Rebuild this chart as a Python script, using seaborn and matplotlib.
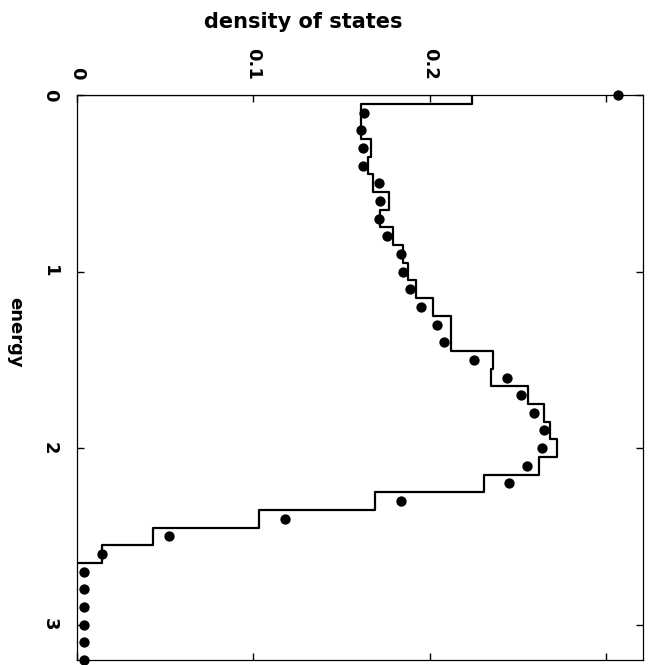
import numpy as np
import matplotlib
matplotlib.use("Agg")
import matplotlib.pyplot as plt
import seaborn as sns

# ---- data ----
# histogram (step curve): bin edges along the energy axis and density per bin
bin_edges = [0.0, 0.05, 0.15, 0.25, 0.35, 0.45, 0.55, 0.65, 0.75, 0.85, 0.95,
             1.05, 1.15, 1.25, 1.35, 1.45, 1.55, 1.65, 1.75, 1.85, 1.95,
             2.05, 2.15, 2.25, 2.35, 2.45, 2.55, 2.65]
hist_density = [0.224, 0.161, 0.161, 0.167, 0.165, 0.168, 0.177, 0.172, 0.179,
                0.185, 0.188, 0.192, 0.202, 0.212, 0.212, 0.236, 0.235, 0.256,
                0.265, 0.268, 0.272, 0.262, 0.231, 0.169, 0.103, 0.043, 0.014]

# dots
dot_energy = [0.0, 0.1, 0.2, 0.3, 0.4, 0.5, 0.6, 0.7, 0.8, 0.9, 1.0, 1.1, 1.2,
              1.3, 1.4, 1.5, 1.6, 1.7, 1.8, 1.9, 2.0, 2.1, 2.2, 2.3, 2.4, 2.5,
              2.6, 2.7, 2.8, 2.9, 3.0, 3.1, 3.2]
dot_density = [0.307, 0.163, 0.161, 0.162, 0.162, 0.171, 0.172, 0.171, 0.176,
               0.184, 0.185, 0.189, 0.195, 0.204, 0.208, 0.225, 0.244, 0.252,
               0.259, 0.265, 0.264, 0.255, 0.245, 0.184, 0.118, 0.052, 0.014,
               0.004, 0.004, 0.004, 0.004, 0.004, 0.004]

density_ticks = [0.0, 0.1, 0.2, 0.3]
density_ticklabels = ["0", "0.1", "0.2", ""]
energy_ticks = [0, 1, 2, 3]
energy_ticklabels = ["0", "1", "2", "3"]

# ---- styling ----
sns.set_style("white")
plt.rcParams["font.family"] = ["DejaVu Sans"]
plt.rcParams["font.weight"] = "bold"
for k in ["text.color", "axes.labelcolor", "xtick.color", "ytick.color",
          "axes.edgecolor"]:
    plt.rcParams[k] = "black"

fig = plt.figure(figsize=(6.49, 6.65), dpi=100)
ax = fig.add_axes([77 / 649, 5 / 665, (643 - 77) / 649, (660 - 95) / 665])

# step outline built from the bin data (closed to density 0 at both ends)
e = np.asarray(bin_edges)
v = np.asarray(hist_density)
step_e = np.concatenate([[e[0]], np.repeat(e, 2)[1:-1], [e[-1]]])
step_d = np.concatenate([[0.0], np.repeat(v, 2), [0.0]])
sns.lineplot(x=step_d, y=step_e, sort=False, estimator=None, color="black",
             linewidth=1.6, ax=ax)

sns.scatterplot(x=dot_density, y=dot_energy, color="black", s=55,
                edgecolor="black", linewidth=0, ax=ax, clip_on=False, zorder=5)

ax.set_xlim(0, 0.321)
ax.set_ylim(3.2, 0)

for sp in ax.spines.values():
    sp.set_visible(True)
    sp.set_color("black")
    sp.set_linewidth(0.9)

ax.xaxis.set_ticks_position("both")
ax.yaxis.set_ticks_position("both")
ax.set_xticks(density_ticks)
ax.set_yticks(energy_ticks)
ax.tick_params(axis="x", which="both", top=True, bottom=True, labeltop=True,
               labelbottom=False, direction="in", length=5, width=1, pad=11)
ax.tick_params(axis="y", which="both", left=True, right=True, labelleft=True,
               labelright=False, direction="in", length=5, width=1, pad=13)
ax.set_xticklabels(density_ticklabels, rotation=270, fontsize=13,
                   fontweight="bold", ha="center", va="bottom")
ax.set_yticklabels(energy_ticklabels, rotation=270, fontsize=13,
                   fontweight="bold", ha="right", va="center")
ax.set_xlabel("")
ax.set_ylabel("")

fig.text(303 / 649, 1 - 22 / 665, "density of states", fontsize=15,
         fontweight="bold", ha="center", va="center")
fig.text(15 / 649, 1 - 332 / 665, "energy", fontsize=13, fontweight="bold",
         rotation=270, ha="center", va="center")

fig.savefig("out.png", dpi=100, facecolor="white")
